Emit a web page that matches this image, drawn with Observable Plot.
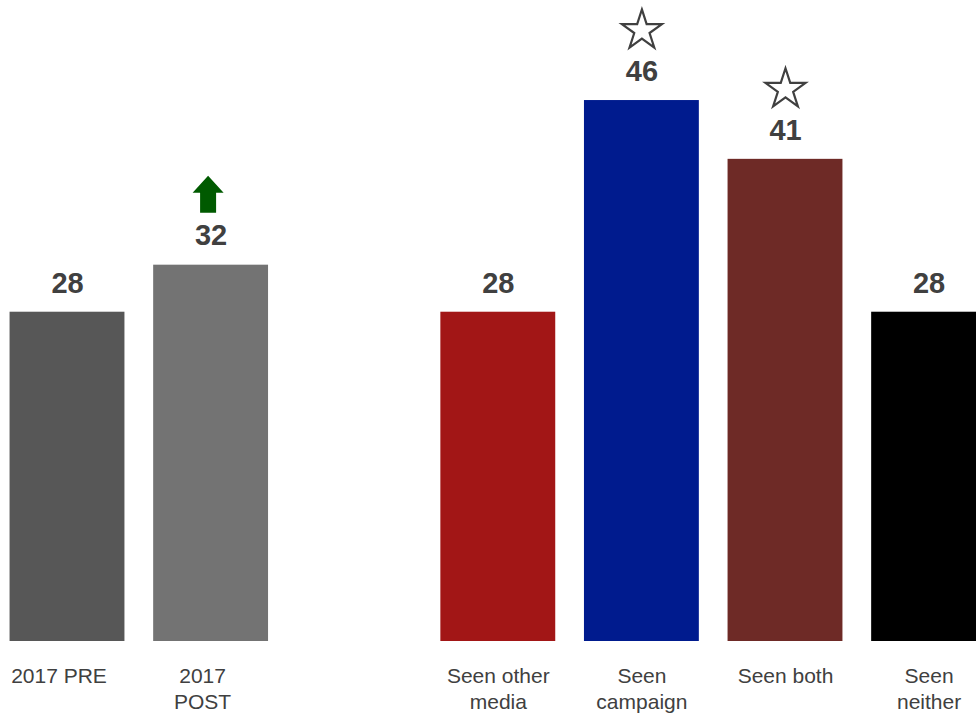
<!DOCTYPE html>
<html>
<head>
<meta charset="utf-8">
<script src="https://cdn.jsdelivr.net/npm/d3@7"></script>
<script src="https://cdn.jsdelivr.net/npm/@observablehq/plot@0.6"></script>
<style>
  html, body { margin: 0; padding: 0; background: #fff; overflow: hidden; }
  #chart { width: 976px; height: 713px; overflow: hidden; }
</style>
</head>
<body>
<div id="chart"></div>
<script>
// ---- data ----
const categories = ["2017 PRE", "2017 POST", "Seen other media", "Seen campaign", "Seen both", "Seen neither"];
const tickLabels = ["2017 PRE", "2017\nPOST", "Seen other\nmedia", "Seen\ncampaign", "Seen both", "Seen\nneither"];
const values = [28, 32, 28, 46, 41, 28];
const barColors = ["#575757", "#737373", "#a21616", "#001b8e", "#6e2a26", "#000000"];
const upArrowOn = ["2017 POST"];
const starOn = ["Seen campaign", "Seen both"];
const spacer = " ";

// domain with an empty slot between the two groups
const xDomain = [categories[0], categories[1], spacer, ...categories.slice(2)];
const leftGroup = categories.slice(0, 2);
const rightGroup = categories.slice(2);

const rows = categories.map((c, i) => ({cat: c, value: values[i], color: barColors[i], label: tickLabels[i]}));
const labelOf = new Map(categories.map((c, i) => [c, tickLabels[i]]));

const arrowSymbol = {
  draw(ctx, size) {
    const hw = 15.5, sw = 8, top = -18.5, neck = -1.5, bottom = 18.5;
    ctx.moveTo(0, top);
    ctx.lineTo(hw, neck);
    ctx.lineTo(sw, neck);
    ctx.lineTo(sw, bottom);
    ctx.lineTo(-sw, bottom);
    ctx.lineTo(-sw, neck);
    ctx.lineTo(-hw, neck);
    ctx.closePath();
  }
};

const axisStyle = {tickSize: 0, tickPadding: 24, fontSize: 21, lineHeight: 1.2,
  tickFormat: d => labelOf.get(d), label: null, fill: "#404040", color: "#404040"};

const chart = Plot.plot({
  width: 976,
  height: 713,
  marginTop: 53,
  marginBottom: 72,
  marginLeft: 0,
  marginRight: 0,
  style: {fontFamily: "'Liberation Sans', Arial, sans-serif", background: "#fff"},
  x: {domain: xDomain, range: [-4.8, 1000.4], paddingInner: 0.2, paddingOuter: 0.1, round: false, label: null},
  y: {domain: [0, 50], axis: null},
  marks: [
    Plot.barY(rows, {x: "cat", y: "value", fill: "color"}),
    Plot.text(rows, {x: "cat", y: "value", text: d => String(d.value), dy: -29,
      fontSize: 29, fontWeight: "bold", fill: "#404040"}),
    Plot.dot(rows.filter(d => upArrowOn.includes(d.cat)), {x: "cat", y: "value", dy: -71, dx: -3,
      symbol: arrowSymbol, r: 10, fill: "#005a00", stroke: "none"}),
    Plot.dot(rows.filter(d => starOn.includes(d.cat)), {x: "cat", y: "value", dy: -70,
      symbol: "star", r: 12.6, fill: "none", stroke: "#404040", strokeWidth: 2.2}),
    Plot.axisX({...axisStyle, ticks: leftGroup, dx: -8.5}),
    Plot.axisX({...axisStyle, ticks: rightGroup})
  ]
});
document.getElementById("chart").appendChild(chart);
</script>
</body>
</html>
